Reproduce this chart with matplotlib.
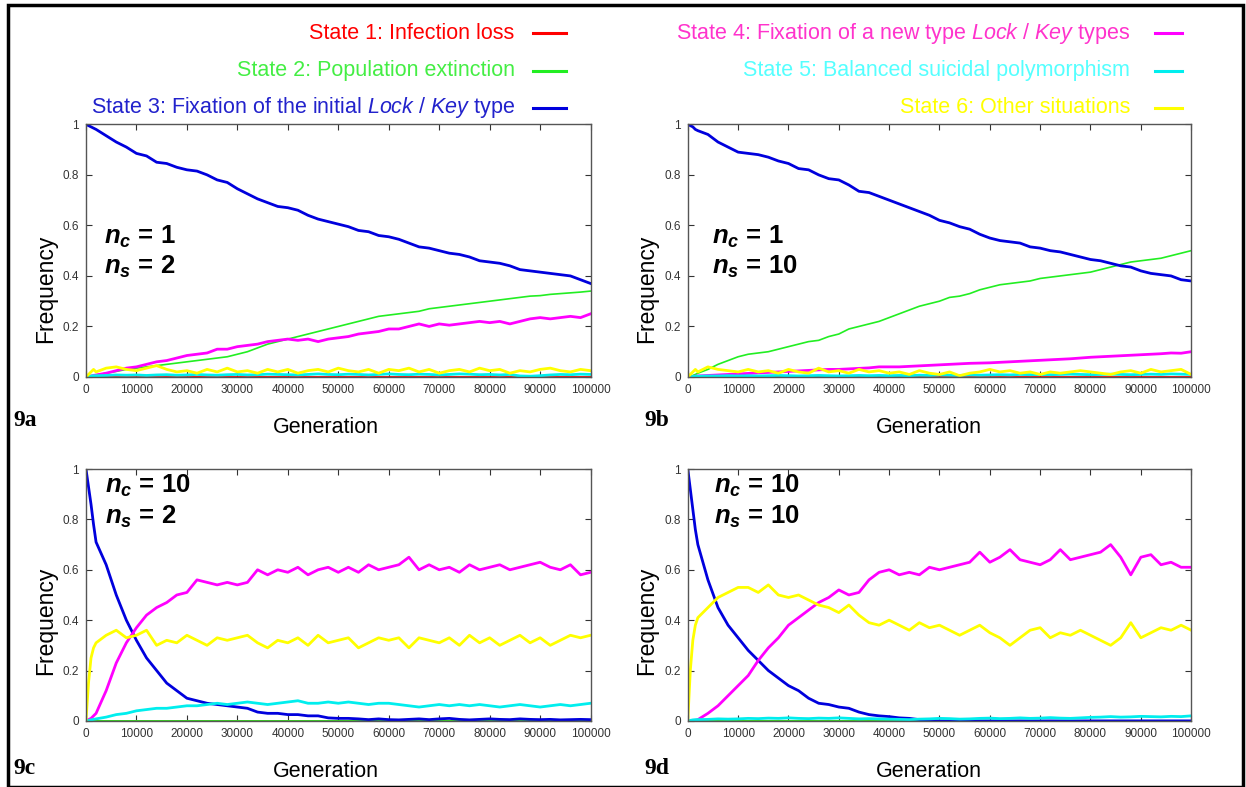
import matplotlib
matplotlib.use('Agg')
import matplotlib.pyplot as plt
from matplotlib.lines import Line2D
from matplotlib.patches import Rectangle

plt.rcParams['font.family'] = ['Liberation Sans', 'DejaVu Sans']
plt.rcParams['mathtext.fontset'] = 'custom'
plt.rcParams['mathtext.rm'] = 'Liberation Sans'
plt.rcParams['mathtext.it'] = 'Liberation Sans:italic'
plt.rcParams['mathtext.bf'] = 'Liberation Sans:bold'
plt.rcParams['mathtext.bfit'] = 'Liberation Sans:italic:bold'

# generations sampled (dense at the start, then every 2000)
gen = [0, 500, 1000, 1500] + list(range(2000, 100001, 2000))
zeros = [0.0] * len(gen)

state_labels = [
    'State 1: Infection loss',
    'State 2: Population extinction',
    r'State 3: Fixation of the initial $\mathit{Lock\ /\ Key}$ type',
    r'State 4: Fixation of a new type $\mathit{Lock\ /\ Key}$ types',
    'State 5: Balanced suicidal polymorphism',
    'State 6: Other situations',
]
line_colors = ['#ff0000', '#22ee22', '#0000dd', '#ff00ff', '#00eeee', '#ffff00']
text_colors = ['#ff0000', '#44ee44', '#2222cc', '#ff33cc', '#55ffff', '#ffff00']

# 9a: n_c = 1, n_s = 2
a_init = [1.00, 0.995, 0.99, 0.985,
          0.98, 0.955, 0.93, 0.91, 0.885,
          0.875, 0.85, 0.845, 0.83, 0.82,
          0.815, 0.80, 0.78, 0.77, 0.745,
          0.725, 0.705, 0.69, 0.675, 0.67,
          0.66, 0.64, 0.625, 0.615, 0.605,
          0.595, 0.58, 0.575, 0.56, 0.555,
          0.545, 0.53, 0.515, 0.51, 0.50,
          0.49, 0.485, 0.475, 0.46, 0.455,
          0.45, 0.44, 0.425, 0.42, 0.415,
          0.41, 0.405, 0.40, 0.385, 0.37]
a_ext = [0.0, 0.002, 0.004, 0.006,
         0.008, 0.015, 0.022, 0.03, 0.035,
         0.04, 0.045, 0.05, 0.055, 0.06,
         0.065, 0.07, 0.075, 0.08, 0.09,
         0.10, 0.115, 0.13, 0.14, 0.15,
         0.16, 0.17, 0.18, 0.19, 0.20,
         0.21, 0.22, 0.23, 0.24, 0.245,
         0.25, 0.255, 0.26, 0.27, 0.275,
         0.28, 0.285, 0.29, 0.295, 0.30,
         0.305, 0.31, 0.315, 0.32, 0.322,
         0.327, 0.33, 0.333, 0.336, 0.34]
a_new = [0.0, 0.002, 0.004, 0.006,
         0.008, 0.015, 0.025, 0.035, 0.04,
         0.05, 0.06, 0.065, 0.075, 0.085,
         0.09, 0.095, 0.11, 0.11, 0.12,
         0.125, 0.13, 0.14, 0.145, 0.15,
         0.145, 0.15, 0.14, 0.15, 0.155,
         0.16, 0.17, 0.175, 0.18, 0.19,
         0.19, 0.20, 0.21, 0.20, 0.21,
         0.205, 0.21, 0.215, 0.22, 0.215,
         0.22, 0.21, 0.22, 0.23, 0.235,
         0.23, 0.235, 0.24, 0.235, 0.25]
a_poly = [0.0, 0.002, 0.004, 0.005,
          0.005, 0.006, 0.008, 0.007, 0.008,
          0.006, 0.008, 0.009, 0.007, 0.008,
          0.01, 0.008, 0.007, 0.009, 0.01,
          0.008, 0.009, 0.011, 0.01, 0.009,
          0.008, 0.01, 0.012, 0.01, 0.009,
          0.011, 0.01, 0.008, 0.01, 0.012,
          0.01, 0.009, 0.011, 0.01, 0.008,
          0.01, 0.012, 0.011, 0.009, 0.01,
          0.008, 0.01, 0.004, 0.003, 0.005,
          0.008, 0.01, 0.009, 0.011, 0.01]
a_other = [0.0, 0.01, 0.02, 0.03,
           0.02, 0.035, 0.04, 0.03, 0.025,
           0.035, 0.045, 0.03, 0.02, 0.025,
           0.015, 0.03, 0.02, 0.035, 0.02,
           0.025, 0.015, 0.03, 0.02, 0.03,
           0.015, 0.025, 0.03, 0.02, 0.035,
           0.025, 0.02, 0.03, 0.015, 0.03,
           0.025, 0.035, 0.02, 0.03, 0.015,
           0.025, 0.03, 0.02, 0.035, 0.025,
           0.03, 0.015, 0.025, 0.02, 0.03,
           0.035, 0.025, 0.02, 0.03, 0.025]

# 9b: n_c = 1, n_s = 10
b_init = [1.00, 0.995, 0.99, 0.98,
          0.975, 0.96, 0.93, 0.91, 0.89,
          0.885, 0.88, 0.87, 0.855, 0.845,
          0.825, 0.82, 0.80, 0.785, 0.78,
          0.76, 0.735, 0.73, 0.715, 0.70,
          0.685, 0.67, 0.655, 0.64, 0.62,
          0.61, 0.595, 0.585, 0.565, 0.55,
          0.54, 0.535, 0.53, 0.515, 0.51,
          0.50, 0.495, 0.485, 0.475, 0.465,
          0.46, 0.45, 0.44, 0.435, 0.42,
          0.41, 0.405, 0.40, 0.385, 0.38]
b_ext = [0.0, 0.003, 0.006, 0.01,
         0.015, 0.03, 0.05, 0.065, 0.08,
         0.09, 0.095, 0.10, 0.11, 0.12,
         0.13, 0.14, 0.145, 0.16, 0.17,
         0.19, 0.20, 0.21, 0.22, 0.235,
         0.25, 0.265, 0.28, 0.29, 0.30,
         0.315, 0.32, 0.33, 0.345, 0.355,
         0.365, 0.37, 0.375, 0.38, 0.39,
         0.395, 0.40, 0.405, 0.41, 0.415,
         0.425, 0.435, 0.445, 0.455, 0.46,
         0.465, 0.47, 0.48, 0.49, 0.50]
b_new = [0.0, 0.0, 0.002, 0.003,
         0.004, 0.006, 0.008, 0.01, 0.012,
         0.014, 0.016, 0.018, 0.02, 0.022,
         0.024, 0.026, 0.028, 0.03, 0.03,
         0.032, 0.034, 0.036, 0.04, 0.04,
         0.04, 0.042, 0.044, 0.046, 0.048,
         0.05, 0.052, 0.054, 0.055, 0.056,
         0.058, 0.06, 0.062, 0.064, 0.066,
         0.068, 0.07, 0.072, 0.075, 0.078,
         0.08, 0.082, 0.084, 0.086, 0.088,
         0.09, 0.092, 0.095, 0.094, 0.10]
b_poly = [0.0, 0.001, 0.002, 0.003,
          0.003, 0.004, 0.004, 0.005, 0.004,
          0.005, 0.004, 0.005, 0.006, 0.005,
          0.004, 0.005, 0.006, 0.005, 0.004,
          0.005, 0.006, 0.005, 0.006, 0.005,
          0.006, 0.005, 0.007, 0.006, 0.008,
          0.007, 0.006, 0.008, 0.007, 0.008,
          0.009, 0.008, 0.01, 0.009, 0.01,
          0.009, 0.01, 0.011, 0.01, 0.009,
          0.01, 0.011, 0.01, 0.009, 0.01,
          0.011, 0.01, 0.012, 0.011, 0.01]
b_other = [0.0, 0.01, 0.02, 0.03,
           0.02, 0.04, 0.03, 0.025, 0.02,
           0.03, 0.02, 0.025, 0.015, 0.03,
           0.02, 0.015, 0.035, 0.02, 0.025,
           0.015, 0.03, 0.02, 0.025, 0.015,
           0.02, 0.01, 0.025, 0.015, 0.01,
           0.02, 0.005, 0.015, 0.02, 0.03,
           0.02, 0.025, 0.015, 0.02, 0.01,
           0.02, 0.015, 0.02, 0.025, 0.02,
           0.015, 0.01, 0.02, 0.025, 0.015,
           0.03, 0.02, 0.025, 0.03, 0.01]

# 9c: n_c = 10, n_s = 2
c_init = [1.00, 0.93, 0.86, 0.78,
          0.71, 0.62, 0.50, 0.40, 0.32,
          0.25, 0.20, 0.15, 0.12, 0.09,
          0.08, 0.07, 0.065, 0.06, 0.055,
          0.05, 0.035, 0.03, 0.03, 0.025,
          0.025, 0.02, 0.02, 0.012, 0.01,
          0.01, 0.008, 0.005, 0.008, 0.005,
          0.004, 0.006, 0.008, 0.005, 0.008,
          0.01, 0.006, 0.004, 0.006, 0.008,
          0.006, 0.005, 0.008, 0.006, 0.005,
          0.006, 0.004, 0.005, 0.006, 0.005]
c_new = [0.0, 0.005, 0.01, 0.02,
         0.03, 0.12, 0.23, 0.31, 0.37,
         0.42, 0.45, 0.47, 0.50, 0.51,
         0.56, 0.55, 0.54, 0.55, 0.54,
         0.55, 0.60, 0.58, 0.60, 0.59,
         0.61, 0.58, 0.60, 0.61, 0.59,
         0.61, 0.59, 0.62, 0.60, 0.61,
         0.62, 0.65, 0.60, 0.62, 0.60,
         0.61, 0.59, 0.62, 0.60, 0.61,
         0.62, 0.60, 0.61, 0.62, 0.63,
         0.61, 0.60, 0.62, 0.58, 0.59]
c_poly = [0.0, 0.002, 0.004, 0.006,
          0.008, 0.015, 0.025, 0.03, 0.04,
          0.045, 0.05, 0.05, 0.055, 0.06,
          0.06, 0.065, 0.07, 0.065, 0.07,
          0.075, 0.07, 0.065, 0.07, 0.075,
          0.08, 0.07, 0.07, 0.075, 0.07,
          0.075, 0.07, 0.065, 0.07, 0.07,
          0.065, 0.06, 0.055, 0.06, 0.065,
          0.06, 0.065, 0.06, 0.065, 0.06,
          0.055, 0.06, 0.065, 0.06, 0.055,
          0.06, 0.065, 0.06, 0.065, 0.07]
c_other = [0.0, 0.15, 0.25, 0.29,
           0.31, 0.34, 0.36, 0.33, 0.34,
           0.36, 0.30, 0.32, 0.31, 0.34,
           0.32, 0.30, 0.33, 0.32, 0.33,
           0.34, 0.31, 0.29, 0.32, 0.31,
           0.33, 0.30, 0.34, 0.31, 0.32,
           0.33, 0.29, 0.31, 0.33, 0.32,
           0.33, 0.29, 0.33, 0.32, 0.31,
           0.33, 0.30, 0.34, 0.31, 0.33,
           0.30, 0.32, 0.34, 0.31, 0.33,
           0.30, 0.32, 0.34, 0.33, 0.34]

# 9d: n_c = 10, n_s = 10
d_init = [1.00, 0.92, 0.84, 0.76,
          0.70, 0.56, 0.45, 0.38, 0.33,
          0.28, 0.24, 0.20, 0.17, 0.14,
          0.12, 0.09, 0.07, 0.065, 0.055,
          0.05, 0.035, 0.025, 0.02, 0.017,
          0.012, 0.01, 0.005, 0.002, 0.0,
          0.0, 0.0, 0.0, 0.0, 0.0,
          0.0, 0.0, 0.0, 0.0, 0.0,
          0.0, 0.0, 0.0, 0.0, 0.0,
          0.0, 0.0, 0.0, 0.0, 0.0,
          0.0, 0.0, 0.0, 0.0, 0.0]
d_new = [0.0, 0.0, 0.0, 0.002,
         0.005, 0.03, 0.06, 0.10, 0.14,
         0.18, 0.24, 0.29, 0.33, 0.38,
         0.41, 0.44, 0.47, 0.49, 0.52,
         0.50, 0.51, 0.56, 0.59, 0.60,
         0.58, 0.59, 0.58, 0.61, 0.60,
         0.61, 0.62, 0.63, 0.67, 0.63,
         0.65, 0.68, 0.64, 0.63, 0.62,
         0.64, 0.68, 0.64, 0.65, 0.66,
         0.67, 0.70, 0.65, 0.58, 0.65,
         0.66, 0.62, 0.63, 0.61, 0.61]
d_poly = [0.0, 0.002, 0.004, 0.005,
          0.005, 0.006, 0.008, 0.007, 0.008,
          0.01, 0.009, 0.011, 0.01, 0.012,
          0.01, 0.009, 0.011, 0.01, 0.012,
          0.01, 0.008, 0.009, 0.008, 0.007,
          0.006, 0.005, 0.007, 0.008, 0.01,
          0.009, 0.007, 0.008, 0.01, 0.011,
          0.009, 0.01, 0.012, 0.01, 0.011,
          0.013, 0.011, 0.01, 0.012, 0.014,
          0.015, 0.017, 0.015, 0.016, 0.018,
          0.017, 0.016, 0.018, 0.017, 0.02]
d_other = [0.0, 0.20, 0.32, 0.38,
           0.41, 0.45, 0.49, 0.51, 0.53,
           0.53, 0.51, 0.54, 0.50, 0.49,
           0.50, 0.48, 0.46, 0.45, 0.43,
           0.46, 0.42, 0.39, 0.38, 0.40,
           0.38, 0.36, 0.39, 0.37, 0.38,
           0.36, 0.34, 0.36, 0.38, 0.35,
           0.33, 0.30, 0.33, 0.36, 0.37,
           0.33, 0.35, 0.34, 0.36, 0.34,
           0.32, 0.30, 0.33, 0.39, 0.33,
           0.35, 0.37, 0.36, 0.38, 0.36]

panels = [
    ('9a', '1', '2', [zeros, a_ext, a_init, a_new, a_poly, a_other]),
    ('9b', '1', '10', [zeros, b_ext, b_init, b_new, b_poly, b_other]),
    ('9c', '10', '2', [zeros, zeros, c_init, c_new, c_poly, c_other]),
    ('9d', '10', '10', [zeros, zeros, d_init, d_new, d_poly, d_other]),
]

# axes rectangles [left, bottom, width, height] in figure fractions
rects = [[0.069, 0.521, 0.405, 0.321],
         [0.552, 0.521, 0.404, 0.321],
         [0.069, 0.084, 0.405, 0.320],
         [0.552, 0.084, 0.404, 0.320]]
label_pos = [(0.011, 0.466), (0.517, 0.466), (0.011, 0.024), (0.517, 0.024)]
ann_x = [0.036, 0.048, 0.038, 0.052]
# gnuplot put the axis titles a bit off-centre
ylab_y = [0.348, 0.348, 0.397, 0.397]
xlab_x = [0.476, 0.478, 0.476, 0.478]


def draw_panel(ax, series, nc, ns, ax_x, top_ann, yl, xl):
    for i, ys in enumerate(series):
        thin = (i == 1 and ys is not zeros)
        ax.plot(gen, ys, color=line_colors[i], lw=1.2 if thin else 2.0,
                solid_joinstyle='round')
    ax.set_xlim(0, 100000)
    ax.set_ylim(0, 1)
    ax.set_xticks(range(0, 100001, 10000))
    ax.set_yticks([0, 0.2, 0.4, 0.6, 0.8, 1])
    ax.set_yticklabels(['0', '0.2', '0.4', '0.6', '0.8', '1'])
    ax.tick_params(direction='in', top=True, right=True, length=4,
                   labelsize=8.5, colors='#333333', pad=5)
    for sp in ax.spines.values():
        sp.set_color('#555555')
        sp.set_linewidth(1.0)
    ax.set_ylabel('Frequency', fontsize=16.5)
    ax.set_xlabel('Generation', fontsize=15.5)
    ax.yaxis.set_label_coords(-0.058, yl)
    ax.xaxis.set_label_coords(xl, -0.16)
    y1, y2 = (0.935, 0.81) if top_ann else (0.553, 0.435)
    ax.text(ax_x, y1, r'$\mathbfit{n}_{\mathbfit{c}}$ = ' + nc, transform=ax.transAxes,
            fontsize=18.5, fontweight='bold', va='center')
    ax.text(ax_x, y2, r'$\mathbfit{n}_{\mathbfit{s}}$ = ' + ns, transform=ax.transAxes,
            fontsize=18.5, fontweight='bold', va='center')


fig = plt.figure(figsize=(12.46, 7.87), dpi=100)

for k, (name, nc, ns, series) in enumerate(panels):
    ax = fig.add_axes(rects[k])
    draw_panel(ax, series, nc, ns, ann_x[k], k >= 2, ylab_y[k], xlab_x[k])
    fig.text(label_pos[k][0], label_pos[k][1], name, fontsize=17, fontweight='bold',
             family='Liberation Serif', va='center')

# legend, gnuplot style: right aligned text with a line sample after it
leg_rows = [0.958, 0.910, 0.863]
for i in range(6):
    col = i // 3
    y = leg_rows[i % 3]
    tx, l0, l1 = (0.413, 0.428, 0.454) if col == 0 else (0.907, 0.927, 0.949)
    fig.text(tx, y, state_labels[i], color=text_colors[i], fontsize=15.5,
             ha='right', va='center')
    fig.add_artist(Line2D([l0, l1], [y, y], color=line_colors[i], lw=2.2,
                          transform=fig.transFigure))

fig.add_artist(Rectangle((0.0065, 0.0), 0.991, 0.994, fill=False, lw=2.5,
                         edgecolor='black', transform=fig.transFigure))

fig.savefig('out.png', dpi=100)
